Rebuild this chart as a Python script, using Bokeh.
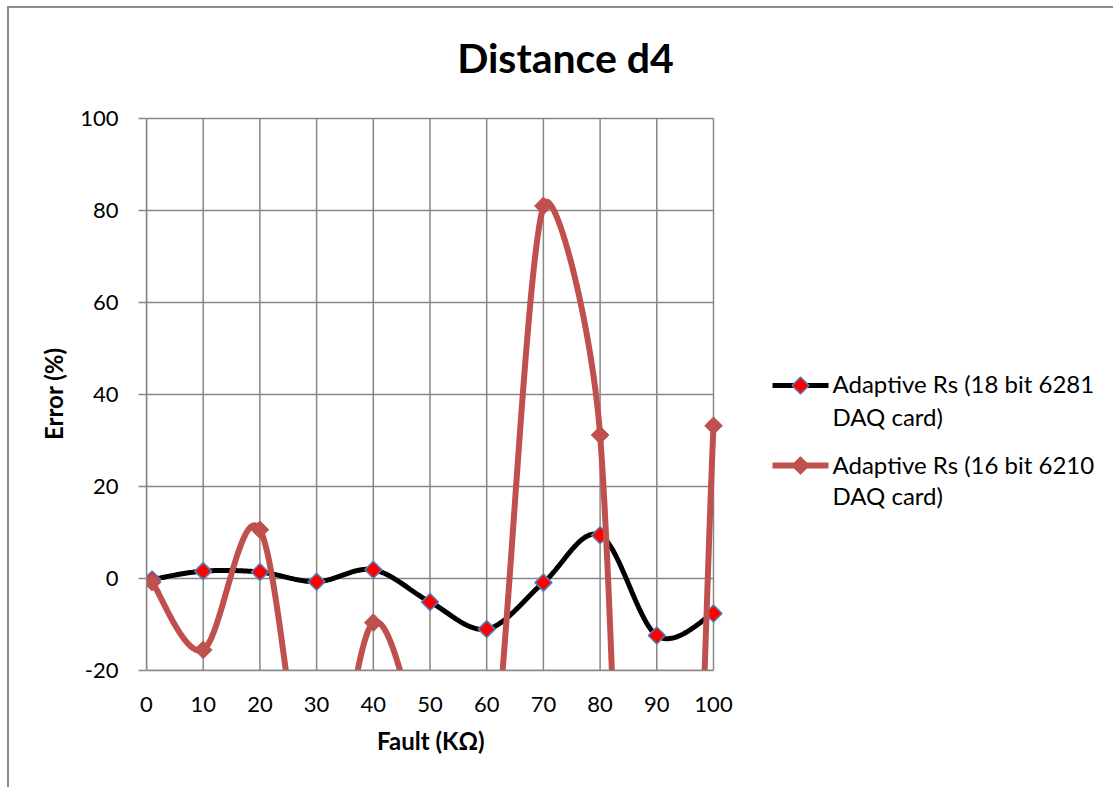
import numpy as np
from bokeh.plotting import figure
from bokeh.models import FixedTicker, Range1d, InlineStyleSheet, Title
from bokeh.core.properties import value
from bokeh.embed import file_html
from bokeh.resources import INLINE

# ---------------- data ----------------
fault_k = [1, 10, 20, 30, 40, 50, 60, 70, 80, 90, 100]
err_18bit_6281 = [-0.2, 1.6, 1.4, -0.7, 1.9, -5.1, -11.0, -0.9, 9.4, -12.4, -7.6]
# points at 30, 50, 60, 90 lie below the visible range (estimated)
err_16bit_6210 = [-0.8, -15.5, 10.6, -56.0, -9.6, -40.0, -52.0, 81.0, 31.2, -240.0, 33.2]
x_ticks = [0, 10, 20, 30, 40, 50, 60, 70, 80, 90, 100]
y_ticks = [-20, 0, 20, 40, 60, 80, 100]
series_labels = [["Adaptive Rs (18 bit 6281", "DAQ card)"],
                 ["Adaptive Rs (16 bit 6210", "DAQ card)"]]
series_colors = ["black", "#C0504D"]
title_text = "Distance d4"
x_title = "Fault (K\u03a9)"
y_title = "Error (%)"

FONT = "Lato"
GRID = "#878787"

# ---------------- geometry (pixels of the 1113x787 page) ----------------
W, H = 1113, 787
PL, PB = 146, 117                 # left / bottom panels
PX_PER_X, PX_PER_Y = 5.67, 4.6    # axis scale (0..100 over 567 px, -20..100 over 552 px)
X0, X1, Y0, Y1 = 0, 100, -20, 100
SX, SY = PX_PER_X, PX_PER_Y


def px_to_x(px):
    return (px - PL) / PX_PER_X


def px_to_y(py):
    return Y0 + (H - PB - py) / PX_PER_Y


def smooth(xs, ys, n=40):
    """Excel-like smoothed line: Bezier segments with 1/6 tangents (capped)."""
    P = np.column_stack([np.asarray(xs, float) * SX, np.asarray(ys, float) * SY])
    m = len(P)
    pts = [P[0]]
    t = np.linspace(0, 1, n)[1:][:, None]
    for i in range(m - 1):
        p0 = P[i - 1] if i > 0 else P[i]
        p1, p2 = P[i], P[i + 1]
        p3 = P[i + 2] if i + 2 < m else P[i + 1]
        d12 = np.linalg.norm(p2 - p1)
        dmax = max(np.linalg.norm(p2 - p0), np.linalg.norm(p3 - p1))
        f = min(1 / 6, d12 / 2 / dmax) if dmax > 0 else 1 / 6
        b1 = p1 + f * (p2 - p0)
        b2 = p2 - f * (p3 - p1)
        seg = ((1 - t) ** 3) * p1 + 3 * ((1 - t) ** 2) * t * b1 + 3 * (1 - t) * t ** 2 * b2 + t ** 3 * p2
        pts.extend(seg)
    pts = np.array(pts)
    return pts[:, 0] / SX, pts[:, 1] / SY


p = figure(width=W, height=H, title=None,
           x_range=Range1d(0, px_to_x(W)), y_range=Range1d(Y0, px_to_y(0)),
           output_backend="svg", toolbar_location=None,
           min_border_left=PL, min_border_right=0, min_border_top=0,
           min_border_bottom=PB)
p.outline_line_color = None
p.background_fill_color = None
p.border_fill_color = None
p.xgrid.visible = False
p.ygrid.visible = False

# chart-area border (left and top visible in the reference)
p.stylesheets = [InlineStyleSheet(css="""
:host { position: relative; }
:host::after { content: ''; position: absolute; left: 7px; top: 6px; right: 0; bottom: 0;
  border-left: 2px solid #8C8C8C; border-top: 2px solid #8C8C8C;
  pointer-events: none; }
""")]

# axes
for ax in (p.xaxis[0], p.yaxis[0]):
    ax.axis_line_color = GRID
    ax.axis_line_width = 1.5
    ax.major_tick_line_color = GRID
    ax.major_tick_line_width = 1.5
    ax.minor_tick_line_color = None
    ax.major_label_text_font = FONT
    ax.major_label_text_font_size = "22px"
    ax.major_label_text_color = "black"

p.xaxis.bounds = (X0, X1)
p.yaxis.bounds = (Y0, Y1)
p.xaxis.ticker = FixedTicker(ticks=x_ticks)
p.yaxis.ticker = FixedTicker(ticks=y_ticks)
p.yaxis.major_label_overrides = {t: str(t) for t in y_ticks}
p.xaxis.major_tick_out = 0
p.xaxis.major_tick_in = 0
p.xaxis.major_label_standoff = 26
p.yaxis.major_tick_out = 8
p.yaxis.major_tick_in = 0
p.yaxis.major_label_standoff = 20

# axis titles, centred on the plot box (the frame extends to the right / top)
box_cx_off = (X1 - X0) * PX_PER_X / 2      # from the frame's left edge
box_cy_off = (Y1 - Y0) * PX_PER_Y / 2      # from the frame's bottom edge
XT_W, YT_W = 106, 91                       # rendered widths of the two titles
p.add_layout(Title(text=x_title, align="left", offset=box_cx_off - XT_W / 2, standoff=19,
                   text_font=FONT, text_font_size="24px", text_font_style="bold",
                   text_color="black"), "below")
p.add_layout(Title(text=y_title, align="left", offset=box_cy_off - YT_W / 2, standoff=20,
                   text_font=FONT, text_font_size="24px", text_font_style="bold",
                   text_color="black"), "left")

# grid lines (limited to the plot box)
p.segment(x0=x_ticks, y0=Y0, x1=x_ticks, y1=Y1, line_color=GRID, line_width=1.5)
p.segment(x0=X0, y0=y_ticks, x1=X1, y1=y_ticks, line_color=GRID, line_width=1.5)

# series 1 (black line, red diamonds with blue edge)
sx1, sy1 = smooth(fault_k, err_18bit_6281)
p.line(sx1, sy1, line_color=series_colors[0], line_width=5)
p.scatter(fault_k, err_18bit_6281, marker="square", angle=np.pi / 4, size=12,
          fill_color="#FF0000", line_color="#4F81BD", line_width=1.5)

# series 2 (red line, red diamonds)
sx2, sy2 = smooth(fault_k, err_16bit_6210)
p.line(sx2, sy2, line_color=series_colors[1], line_width=6)
p.scatter(fault_k, err_16bit_6210, marker="square", angle=np.pi / 4, size=12.5,
          fill_color=series_colors[1], line_color=series_colors[1], line_width=1)

# legend (drawn to the right of the plot box)
leg_line_y = [px_to_y(385), px_to_y(465)]
lx0, lx1 = px_to_x(772), px_to_x(828)
p.segment(x0=lx0, x1=lx1, y0=leg_line_y[0], y1=leg_line_y[0],
          line_color=series_colors[0], line_width=5)
p.segment(x0=lx0, x1=lx1, y0=leg_line_y[1], y1=leg_line_y[1],
          line_color=series_colors[1], line_width=6)
lxm = (lx0 + lx1) / 2
p.scatter([lxm], [leg_line_y[0]], marker="square", angle=np.pi / 4, size=12,
          fill_color="#FF0000", line_color="#4F81BD", line_width=1.5)
p.scatter([lxm], [leg_line_y[1]], marker="square", angle=np.pi / 4, size=12.5,
          fill_color=series_colors[1], line_color=series_colors[1], line_width=1)
leg_text = [series_labels[0][0], series_labels[0][1], series_labels[1][0], series_labels[1][1]]
leg_base = [px_to_y(382.5), px_to_y(416), px_to_y(463.5), px_to_y(495)]
p.text(x=[px_to_x(832)] * 4, y=leg_base, text=leg_text,
       text_font=value(FONT), text_font_size=value("24px"), text_color="black",
       text_align="left", text_baseline="alphabetic")

# chart title
p.text(x=[px_to_x(565)], y=[px_to_y(56.5)], text=[title_text],
       text_font=value(FONT), text_font_size=value("41px"), text_font_style="bold",
       text_color="black", text_align="center", text_baseline="alphabetic")

open("out.html", "w").write(file_html(p, INLINE))
